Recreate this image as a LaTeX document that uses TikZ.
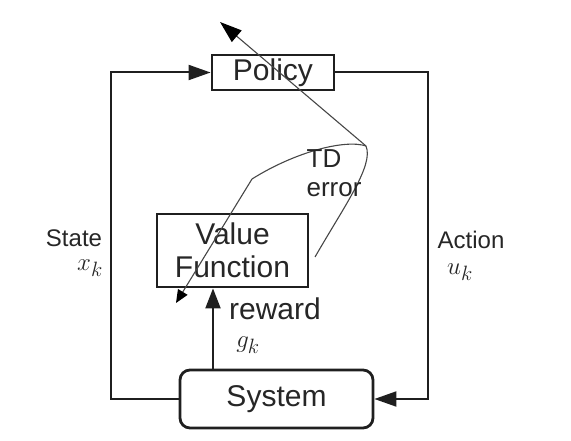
\documentclass[tikz,border=0pt]{standalone}
\usepackage{fontspec}
\setmainfont{Liberation Sans}
\usetikzlibrary{arrows.meta}
\begin{document}
\begin{tikzpicture}[x=1pt,y=-1pt,
  box/.style={draw=black!88,line width=2.8pt,inner sep=0pt,font=\fontsize{30}{33}\selectfont,text=black!85},
  conn/.style={draw=black!88,line width=2pt,-{Triangle[length=22pt,width=15pt]}},
  td/.style={draw=black!72,line width=1.1pt},
  lbl/.style={text=black!85,inner sep=0pt}]
\useasboundingbox (0,0) rectangle (571,441);
\node[box,minimum width=122pt,minimum height=35pt] (policy) at (273,72.5) {Policy};
\node[box,minimum width=151pt,minimum height=73pt,align=center] (vf) at (232.5,250.5) {Value\\Function};
\node[box,rounded corners=10pt,minimum width=193pt,minimum height=58pt] (system) at (276.5,399) {System};
\coordinate (L) at (111,399);
\coordinate (R) at (428,72.5);
\coordinate (rx) at (213,0);
\draw[conn] (system.west) -- (L) |- (policy.west);
\draw[conn] (policy.east) -- (R) |- (system.east);
\draw[conn,-{Triangle[length=20pt,width=15pt]}] (system.north -| rx) -- (vf.south -| rx);
% TD error curve
\coordinate (tdstart) at (315,257);
\coordinate (peak) at (366,146);
\coordinate (bend) at (252,179);
\coordinate (toptip) at (220,22);
\coordinate (bottip) at (176,303);
\draw[td] (tdstart) .. controls (345,205) and (374,165) .. (peak);
\draw[td,-{Triangle[length=22pt,width=15pt,fill=black,color=black]}] (peak) -- (toptip);
\draw[td,-{Triangle[length=13pt,width=11pt,fill=black,color=black]}] (peak) .. controls (345,139) and (295,152) .. (bend) -- (bottip);
\node[lbl,font=\fontsize{26}{28}\selectfont] (tdl) at (324,159) {TD};
\node[lbl,font=\fontsize{26}{28}\selectfont] (errl) at (334,190) {error};
\node[lbl,font=\fontsize{24}{26}\selectfont] (state) at (74,238) {State};
\node[lbl,font=\fontsize{30}{32}\selectfont] (xk) at (90,268) {$x_k$};
\node[lbl,font=\fontsize{24}{26}\selectfont] (action) at (471,240) {Action};
\node[lbl,font=\fontsize{30}{32}\selectfont] (uk) at (460,272) {$u_k$};
\node[lbl,font=\fontsize{30}{32}\selectfont] (reward) at (275,309) {reward};
\node[lbl,font=\fontsize{30}{32}\selectfont] (gk) at (248,345) {$g_k$};
\end{tikzpicture}
\end{document}
